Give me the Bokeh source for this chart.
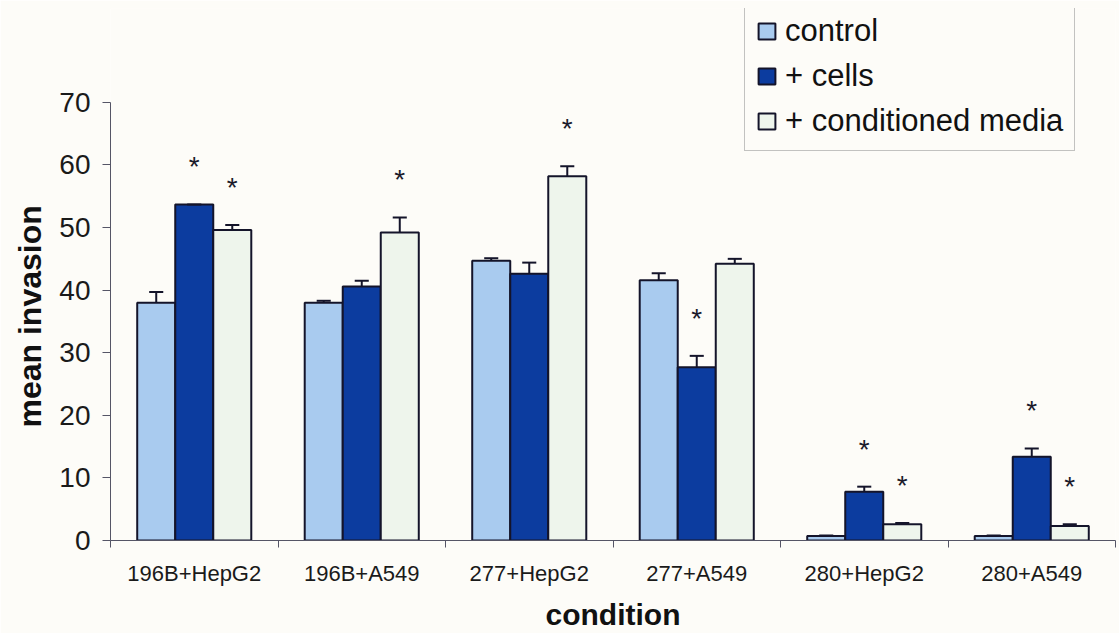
from bokeh.plotting import figure
from bokeh.models import ColumnDataSource, Range1d, FixedTicker, Legend, LegendItem, Title
from bokeh.embed import file_html
from bokeh.resources import INLINE

categories = ["196B+HepG2", "196B+A549", "277+HepG2", "277+A549", "280+HepG2", "280+A549"]
series_names = ["control", "+ cells", "+ conditioned media"]
control = [38.0, 38.0, 44.7, 41.6, 0.7, 0.7]
cells = [53.7, 40.6, 42.6, 27.7, 7.8, 13.4]
media = [49.6, 49.2, 58.2, 44.2, 2.6, 2.3]
control_err = [1.7, 0.3, 0.4, 1.1, 0.1, 0.1]
cells_err = [0.0, 0.9, 1.8, 1.8, 0.8, 1.3]
media_err = [0.8, 2.4, 1.6, 0.8, 0.2, 0.3]
sig_control = [0, 0, 0, 0, 0, 0]
sig_cells = [1, 0, 0, 1, 1, 1]
sig_media = [1, 1, 1, 0, 1, 1]
y_ticks = [0, 10, 20, 30, 40, 50, 60, 70]

colors = ["#a9cbef", "#0c3c9f", "#eef5ec"]
outline = "#14142a"
bg = "#fdfcf8"
FONT = "Liberation Sans"

p = figure(width=1119, height=633, x_range=Range1d(0, 6), y_range=Range1d(0, 85),
           output_backend="svg", toolbar_location=None,
           min_border_left=110, min_border_right=4, min_border_top=8, min_border_bottom=90,
           background_fill_color=bg, border_fill_color=bg)
p.outline_line_color = None
p.xgrid.visible = False
p.ygrid.visible = False

bw = 0.227
offsets = [-bw, 0.0, bw]
all_vals = [control, cells, media]
all_errs = [control_err, cells_err, media_err]
all_sig = [sig_control, sig_cells, sig_media]
renderers = []
star_x, star_y = [], []
for k in range(3):
    xs = [i + 0.5 + offsets[k] for i in range(len(categories))]
    vals = all_vals[k]
    errs = all_errs[k]
    src = ColumnDataSource(dict(x=xs, top=vals, up=[v + e for v, e in zip(vals, errs)],
                                x0=[x - 0.042 for x in xs], x1=[x + 0.042 for x in xs]))
    r = p.vbar(x="x", top="top", bottom=0, width=bw, source=src,
               fill_color=colors[k], line_color=outline, line_width=2)
    renderers.append(r)
    p.segment(x0="x", y0="top", x1="x", y1="up", source=src, line_color=outline, line_width=2)
    p.segment(x0="x0", y0="up", x1="x1", y1="up", source=src, line_color=outline, line_width=2)
    for i, s in enumerate(all_sig[k]):
        if s:
            star_x.append(xs[i])
            star_y.append(vals[i] + errs[i] + 6.0)

star_src = ColumnDataSource(dict(x=star_x, y=star_y, t=["*"] * len(star_x)))
p.text(x="x", y="y", text="t", source=star_src, text_align="center", text_baseline="middle",
       text_font_size="28px", text_color="#1a1a2a")

# y axis
ya = p.yaxis[0]
ya.ticker = FixedTicker(ticks=y_ticks)
ya.bounds = (0, 70)
ya.major_label_text_font = FONT
ya.major_label_text_font_size = "28px"
ya.major_label_text_color = "#1a1a1a"
ya.major_label_standoff = 12
ya.major_tick_out = 8
ya.major_tick_in = 0
ya.minor_tick_out = 0
ya.minor_tick_in = 0
ya.axis_line_color = "#555566"
ya.major_tick_line_color = "#555566"

# y axis title, positioned along the 0-70 span of the axis
p.add_layout(Title(text="mean invasion", align="left", offset=113, standoff=14,
                   vertical_align="top",
                   text_font=FONT, text_font_style="bold", text_font_size="32px",
                   text_color="#111111"), "left")

# x axis: labels at group centres, ticks at group boundaries
xa = p.xaxis[0]
centers = [i + 0.5 for i in range(len(categories))]
xa.ticker = FixedTicker(ticks=centers, minor_ticks=list(range(len(categories) + 1)))
xa.major_label_overrides = {c: lab for c, lab in zip(centers, categories)}
xa.major_tick_out = 0
xa.major_tick_in = 0
xa.minor_tick_out = 7
xa.minor_tick_in = 0
xa.minor_tick_line_color = "#555566"
xa.axis_line_color = "#555566"
xa.major_label_text_font = FONT
xa.major_label_text_font_size = "22px"
xa.major_label_text_color = "#1a1a1a"
xa.major_label_standoff = 13
xa.axis_label = "condition"
xa.axis_label_text_font = FONT
xa.axis_label_text_font_style = "bold"
xa.axis_label_text_font_size = "30px"
xa.axis_label_text_color = "#111111"
xa.axis_label_standoff = 9

legend = Legend(items=[LegendItem(label=n, renderers=[r]) for n, r in zip(series_names, renderers)],
                location=(634, 389))
legend.label_text_font = FONT
legend.label_text_font_size = "31px"
legend.label_text_color = "#111111"
legend.glyph_width = 21
legend.glyph_height = 20
legend.label_standoff = 8
legend.spacing = 9
legend.padding = 11
legend.border_line_color = "#888888"
legend.border_line_width = 1
legend.background_fill_color = bg
legend.background_fill_alpha = 1.0
p.add_layout(legend)

open("out.html", "w").write(file_html(p, INLINE))
